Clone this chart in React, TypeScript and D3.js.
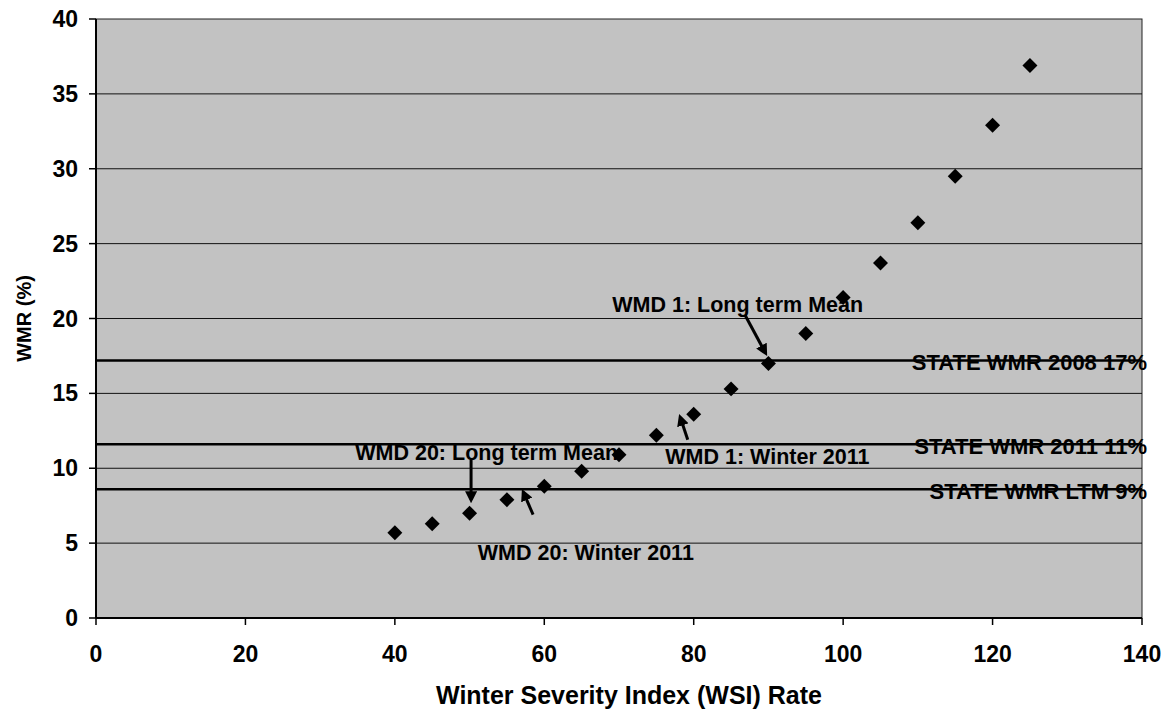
import { useMemo } from "react";
import * as d3 from "d3";

const WIDTH = 1166;
const HEIGHT = 709;
const MARGIN = { top: 19, right: 24, bottom: 91, left: 96 };

// WSI rate vs WMR (%)
const wsi = [40, 45, 50, 55, 60, 65, 70, 75, 80, 85, 90, 95, 100, 105, 110, 115, 120, 125];
const wmr = [5.7, 6.3, 7.0, 7.9, 8.8, 9.8, 10.9, 12.2, 13.6, 15.3, 17.0, 19.0, 21.4, 23.7, 26.4, 29.5, 32.9, 36.9];

const xTicks = [0, 20, 40, 60, 80, 100, 120, 140];
const yTicks = [0, 5, 10, 15, 20, 25, 30, 35, 40];

// horizontal state reference lines
const refValues = [17.2, 11.6, 8.6];
const refLabels = ["STATE WMR 2008 17%", "STATE WMR 2011 11%", "STATE WMR LTM 9%"];

// annotations: text anchor (left, middle) and arrow from -> to, in data units
const noteLabels = ["WMD 1: Long term Mean", "WMD 1: Winter 2011", "WMD 20: Long term Mean", "WMD 20: Winter 2011"];
const noteText = [[69.1, 20.9], [76.2, 10.75], [34.7, 11.0], [51.1, 4.35]];
const noteArrowFrom = [[86.9, 20.2], [79.2, 11.9], [50.2, 10.55], [58.5, 6.9]];
const noteArrowTo = [[89.6, 17.7], [78.2, 13.4], [50.2, 7.9], [57.2, 8.4]];

const FONT = "Liberation Sans, Arial, sans-serif";

export default function App() {
    const boundsWidth = WIDTH - MARGIN.left - MARGIN.right;
    const boundsHeight = HEIGHT - MARGIN.top - MARGIN.bottom;

    const xScale = useMemo(() => d3.scaleLinear().domain([0, 140]).range([0, boundsWidth]), [boundsWidth]);
    const yScale = useMemo(() => d3.scaleLinear().domain([0, 40]).range([boundsHeight, 0]), [boundsHeight]);

    const diamond = d3.symbol().type(d3.symbolSquare).size(112)() || "";

    const grid = yTicks.slice(1, -1).map((v) => (
        <line key={v} x1={0} x2={boundsWidth} y1={yScale(v)} y2={yScale(v)} stroke="#111" strokeWidth={1} />
    ));

    const refs = refValues.map((v, i) => (
        <g key={i}>
            <line x1={xScale(0)} x2={xScale(140)} y1={yScale(v)} y2={yScale(v)} stroke="#000" strokeWidth={2.5} />
            <text
                x={xScale(140) + 5}
                y={yScale(v) + 2}
                textAnchor="end"
                dominantBaseline="central"
                fontSize={22}
                fontWeight="bold"
                fontFamily={FONT}
            >
                {refLabels[i]}
            </text>
        </g>
    ));

    const points = wsi.map((x, i) => (
        <path key={i} d={diamond} transform={`translate(${xScale(x)},${yScale(wmr[i])}) rotate(45)`} fill="#000" />
    ));

    const notes = noteLabels.map((label, i) => (
        <g key={i}>
            <text
                x={xScale(noteText[i][0])}
                y={yScale(noteText[i][1])}
                dominantBaseline="central"
                fontSize={21.5}
                fontWeight="bold"
                fontFamily={FONT}
            >
                {label}
            </text>
            <line
                x1={xScale(noteArrowFrom[i][0])}
                y1={yScale(noteArrowFrom[i][1])}
                x2={xScale(noteArrowTo[i][0])}
                y2={yScale(noteArrowTo[i][1])}
                stroke="#000"
                strokeWidth={3}
                markerEnd="url(#arrow)"
            />
        </g>
    ));

    return (
        <div style={{ position: "absolute", left: 0, top: 0 }}>
            <svg width={WIDTH} height={HEIGHT} style={{ display: "block", background: "#fff" }}>
                <defs>
                    <marker id="arrow" viewBox="0 0 10 10" refX={7} refY={5} markerWidth={4} markerHeight={4} orient="auto">
                        <path d="M0,0 L10,5 L0,10 z" fill="#000" />
                    </marker>
                </defs>
                <g transform={`translate(${MARGIN.left},${MARGIN.top})`}>
                    <rect x={0} y={0} width={boundsWidth} height={boundsHeight} fill="#c2c2c2" stroke="#222" strokeWidth={1} />
                    {grid}
                    {refs}
                    {points}
                    {notes}

                    {/* y axis */}
                    <line x1={0} x2={0} y1={0} y2={boundsHeight} stroke="#000" strokeWidth={2} />
                    {yTicks.map((v) => (
                        <g key={v}>
                            <line x1={-7} x2={0} y1={yScale(v)} y2={yScale(v)} stroke="#000" strokeWidth={1.5} />
                            <text
                                x={-18}
                                y={yScale(v)}
                                textAnchor="end"
                                dominantBaseline="central"
                                fontSize={23}
                                fontWeight="bold"
                                fontFamily={FONT}
                            >
                                {v}
                            </text>
                        </g>
                    ))}

                    {/* x axis */}
                    <line x1={0} x2={boundsWidth} y1={boundsHeight} y2={boundsHeight} stroke="#000" strokeWidth={2} />
                    {xTicks.map((v) => (
                        <g key={v}>
                            <line x1={xScale(v)} x2={xScale(v)} y1={boundsHeight} y2={boundsHeight + 7} stroke="#000" strokeWidth={1.5} />
                            <text
                                x={xScale(v)}
                                y={boundsHeight + 36}
                                textAnchor="middle"
                                dominantBaseline="central"
                                fontSize={23}
                                fontWeight="bold"
                                fontFamily={FONT}
                            >
                                {v}
                            </text>
                        </g>
                    ))}

                    <text
                        x={boundsWidth / 2 + 10}
                        y={boundsHeight + 77}
                        textAnchor="middle"
                        dominantBaseline="central"
                        fontSize={25}
                        fontWeight="bold"
                        fontFamily={FONT}
                    >
                        Winter Severity Index (WSI) Rate
                    </text>
                    <text
                        transform={`translate(${-72},${boundsHeight / 2}) rotate(-90)`}
                        textAnchor="middle"
                        dominantBaseline="central"
                        fontSize={20}
                        fontWeight="bold"
                        fontFamily={FONT}
                    >
                        WMR (%)
                    </text>
                </g>
            </svg>
        </div>
    );
}
